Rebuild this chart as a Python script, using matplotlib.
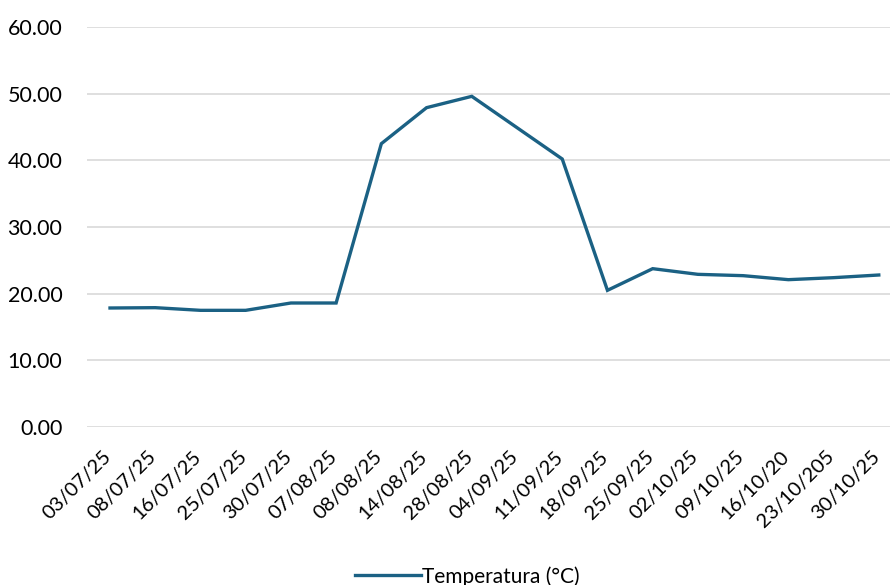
import matplotlib
matplotlib.use("Agg")
import matplotlib.pyplot as plt
from matplotlib.transforms import ScaledTranslation

# dates (as labelled) and temperature readings
dates = ["03/07/25", "08/07/25", "16/07/25", "25/07/25", "30/07/25", "07/08/25",
         "08/08/25", "14/08/25", "28/08/25", "04/09/25", "11/09/25", "18/09/25",
         "25/09/25", "02/10/25", "09/10/25", "16/10/20", "23/10/205", "30/10/25"]
temperatura = [17.85, 17.9, 17.5, 17.5, 18.6, 18.6,
               42.5, 47.9, 49.6, 44.9, 40.2, 20.5,
               23.75, 22.9, 22.7, 22.1, 22.4, 22.8]
yticks = [0, 10, 20, 30, 40, 50, 60]

plt.rcParams['font.family'] = ['Lato', 'DejaVu Sans']

fig = plt.figure(figsize=(8.9, 5.85), dpi=100)
ax = fig.add_axes([87.4 / 890, 158 / 585, 814 / 890, 400 / 585])

x = range(len(dates))
ax.plot(x, temperatura, color='#1b6184', linewidth=2.4, label='Temperatura (°C)',
        solid_joinstyle='miter')

ax.set_xlim(-0.5, len(dates) - 0.5)
ax.set_ylim(0, 60)
ax.set_yticks(yticks)
ax.set_yticklabels([f"{v:.2f}" for v in yticks])
ax.set_xticks(list(x))
ax.set_xticklabels(dates, rotation=45, ha='right', rotation_mode='anchor')

ax.yaxis.grid(True, color='#d9d9d9', linewidth=1.2)
ax.set_axisbelow(True)
for s in ax.spines.values():
    s.set_visible(False)
ax.tick_params(axis='y', length=0, labelsize=15.5, colors='#000000', pad=18)
ax.tick_params(axis='x', length=0, labelsize=14.5, colors='#000000', pad=15)

# nudge the rotated labels a little to the left (after tick_params, which resets transforms)
shift = ScaledTranslation(-8 / 100, 0, fig.dpi_scale_trans)
for lbl in ax.get_xticklabels():
    lbl.set_transform(lbl.get_transform() + shift)

fig.legend(loc='lower center', bbox_to_anchor=(0.525, -0.035), frameon=False,
           fontsize=15, handlelength=3.2, handletextpad=0.05)

fig.savefig("out.png", dpi=100)
